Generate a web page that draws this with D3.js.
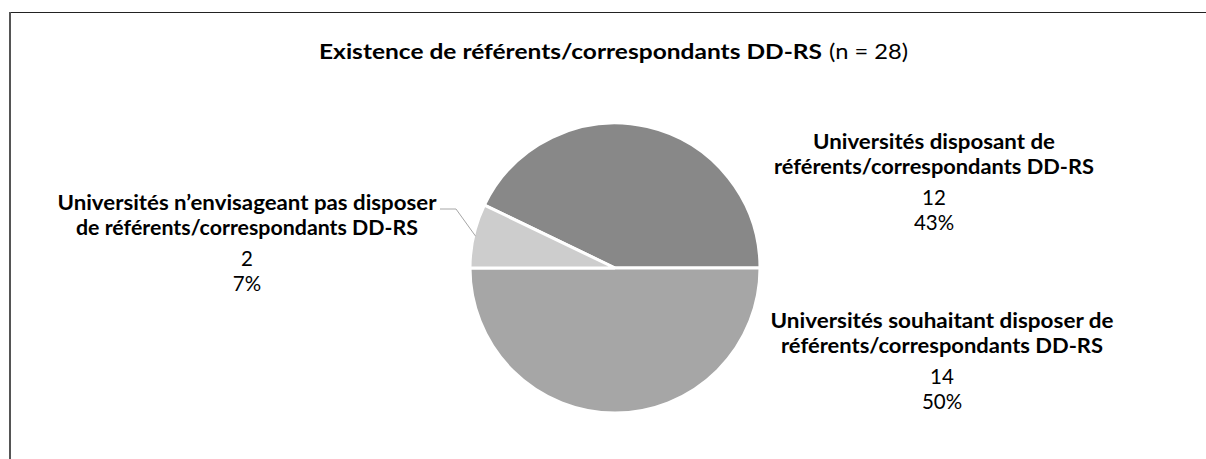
<!DOCTYPE html>
<html>
<head>
<meta charset="utf-8">
<script src="https://cdn.jsdelivr.net/npm/d3@7"></script>
<style>
  body { margin: 0; background: #fff; }
  svg { display: block; }
  text { font-family: Lato, "Open Sans", sans-serif; fill: #000; }
</style>
</head>
<body>
<svg id="chart"></svg>
<script>
// data
var categories = [
    ["Universités disposant de", "référents/correspondants DD-RS"],
    ["Universités souhaitant disposer de", "référents/correspondants DD-RS"],
    ["Universités n\u2019envisageant pas disposer", "de référents/correspondants DD-RS"]
];
var counts = [12, 14, 2];
var percents = ["43%", "50%", "7%"];
var titleBold = "Existence de référents/correspondants DD-RS";
var titleRest = "(n = 28)";

var width = 1206, height = 459;
var cx = 615, cy = 268, radius = 145;
var colors = ["#888888", "#a6a6a6", "#cdcdcd"];

// where each label block sits (centre x, first baseline y) and how wide the bold lines are
var labelPos = [
    {x: 934, y: 149, w: [242, 320]},
    {x: 942, y: 328, w: [343, 322]},
    {x: 247, y: 210, w: [379, 342]}
];

var svg = d3.select("#chart")
    .attr("width", width)
    .attr("height", height);

// frame
svg.append("line")
    .attr("x1", 9).attr("x2", width)
    .attr("y1", 12.5).attr("y2", 12.5)
    .attr("stroke", "#222").attr("stroke-width", 1);
svg.append("line")
    .attr("x1", 10).attr("x2", 10)
    .attr("y1", 12).attr("y2", height)
    .attr("stroke", "#555").attr("stroke-width", 2);

// title, two pieces
svg.append("text")
    .attr("x", 319).attr("y", 59)
    .attr("font-weight", "bold")
    .style("font-size", "21.5px")
    .attr("textLength", 503).attr("lengthAdjust", "spacingAndGlyphs")
    .text(titleBold);
svg.append("text")
    .attr("x", 829).attr("y", 59)
    .style("font-size", "21.5px")
    .attr("textLength", 79).attr("lengthAdjust", "spacingAndGlyphs")
    .text(titleRest);

// pie, first slice ends at 3 o'clock
var total = d3.sum(counts);
var start = Math.PI / 2 - counts[0] / total * 2 * Math.PI;
var pie = d3.pie()
    .sort(null)
    .startAngle(start)
    .endAngle(start + 2 * Math.PI);
var arcs = pie(counts);
var arc = d3.arc().innerRadius(0).outerRadius(radius);

var g = svg.append("g").attr("transform", "translate(" + cx + "," + cy + ")");
g.selectAll("path")
    .data(arcs)
    .enter()
    .append("path")
    .attr("d", arc)
    .attr("fill", function(d, i) { return colors[i]; })
    .attr("stroke", "#fff")
    .attr("stroke-width", 3);

// leader line for the small slice
var small = arcs[2];
var mid = (small.startAngle + small.endAngle) / 2;
var ex = cx + (radius - 2) * Math.sin(mid);
var ey = cy - (radius - 2) * Math.cos(mid);
svg.append("polyline")
    .attr("points", [[440, 209], [456, 209], [ex, ey]].map(function(p) { return p.join(","); }).join(" "))
    .attr("fill", "none")
    .attr("stroke", "#a6a6a6")
    .attr("stroke-width", 1);

// labels
var offsets = [0, 24.5, 55.5, 80.5];
categories.forEach(function(lines, i) {
    var p = labelPos[i];
    var rows = [
        {s: lines[0], b: true, w: p.w[0]},
        {s: lines[1], b: true, w: p.w[1]},
        {s: String(counts[i]), b: false},
        {s: percents[i], b: false}
    ];
    rows.forEach(function(r, k) {
        var t = svg.append("text")
            .attr("x", r.w ? p.x - r.w / 2 : p.x)
            .attr("y", p.y + offsets[k])
            .attr("text-anchor", r.w ? "start" : "middle")
            .attr("font-weight", r.b ? "bold" : "normal")
            .style("font-size", "20.5px")
            .text(r.s);
        if (r.w) {
            t.attr("textLength", r.w).attr("lengthAdjust", "spacingAndGlyphs");
        }
    });
});
</script>
</body>
</html>
